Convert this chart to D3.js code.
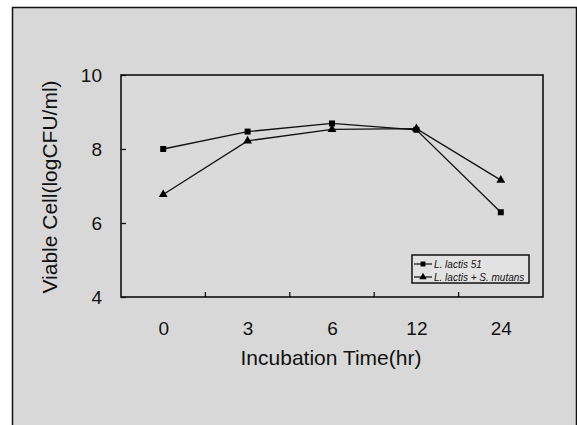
<!DOCTYPE html>
<html>
  <head>
    <meta charset="utf-8">
    <script src="https://cdnjs.cloudflare.com/ajax/libs/d3/7.8.5/d3.min.js"></script>
    <style>
      body { margin: 0; background: #fff; }
      svg text { font-family: "Liberation Sans", Arial, sans-serif; fill: #111; }
    </style>
  </head>
  <body>
    <svg id="chart"></svg>
    <script>

    var width = 577
    var height = 425

    // data
    var times = ["0", "3", "6", "12", "24"]
    var lactis = [8.0, 8.47, 8.69, 8.52, 6.29]
    var mixed = [6.77, 8.22, 8.53, 8.55, 7.16]
    var yTicks = [4, 6, 8, 10]
    var seriesNames = ["L. lactis 51", "L. lactis + S. mutans"]

    var frame = {left: 121, right: 543, top: 75, bottom: 297}

    var svg = d3.select("#chart")
      .attr("width", width)
      .attr("height", height)

    // scanned page background + outer border
    svg.append("rect")
      .attr("x", 12).attr("y", 7)
      .attr("width", width - 12).attr("height", height - 7)
      .attr("fill", "#d8d8d8")
    svg.append("path")
      .attr("d", "M12.5," + height + "V7.5H576.5V" + height)
      .attr("fill", "none")
      .attr("stroke", "#111")
      .attr("stroke-width", 1.5)

    var x = d3.scalePoint()
      .domain(times)
      .range([frame.left, frame.right])
      .padding(0.5)

    var y = d3.scaleLinear()
      .domain([4, 10])
      .range([frame.bottom, frame.top])

    // plot frame
    svg.append("rect")
      .attr("x", frame.left).attr("y", frame.top)
      .attr("width", frame.right - frame.left)
      .attr("height", frame.bottom - frame.top)
      .attr("fill", "#dadada")
      .attr("stroke", "#111")
      .attr("stroke-width", 1.6)

    // y axis, ticks pointing inside
    var yAxis = svg.append("g")
      .attr("transform", "translate(" + frame.left + ",0)")
      .call(d3.axisLeft(y).tickValues(yTicks).tickFormat(d3.format("d"))
        .tickSizeInner(-5).tickSizeOuter(0).tickPadding(19))
    yAxis.select(".domain").remove()
    yAxis.selectAll("line").attr("stroke", "#111").attr("stroke-width", 1.3)
    yAxis.selectAll("text").style("font-size", "19px").attr("fill", "#111")

    // x axis: labels at the categories, tick marks between them
    var xAxis = svg.append("g")
      .attr("transform", "translate(0," + frame.bottom + ")")
      .call(d3.axisBottom(x).tickSize(0).tickPadding(25))
    xAxis.select(".domain").remove()
    xAxis.selectAll("text").style("font-size", "19px").attr("fill", "#111")

    var step = x.step()
    var between = times.slice(1).map(function(t) { return x(t) - step / 2 })
    svg.append("g").selectAll("line")
      .data(between)
      .enter().append("line")
      .attr("x1", function(d) { return d }).attr("x2", function(d) { return d })
      .attr("y1", frame.bottom).attr("y2", frame.bottom - 5)
      .attr("stroke", "#111")
      .attr("stroke-width", 1.3)

    // axis titles
    svg.append("text")
      .attr("x", (frame.left + frame.right) / 2 - 1)
      .attr("y", 365)
      .attr("text-anchor", "middle")
      .style("font-size", "21px")
      .text("Incubation Time(hr)")

    svg.append("text")
      .attr("transform", "translate(57,187) rotate(-90)")
      .attr("text-anchor", "middle")
      .style("font-size", "21px")
      .text("Viable Cell(logCFU/ml)")

    // series
    var line = d3.line()
      .x(function(d, i) { return x(times[i]) })
      .y(function(d) { return y(d) })

    var series = [
      {name: seriesNames[0], values: lactis, symbol: d3.symbolSquare, size: 36},
      {name: seriesNames[1], values: mixed, symbol: d3.symbolTriangle, size: 34}
    ]

    series.forEach(function(s) {
      svg.append("path")
        .datum(s.values)
        .attr("d", line)
        .attr("fill", "none")
        .attr("stroke", "#111")
        .attr("stroke-width", 1.3)

      svg.append("g").selectAll("path")
        .data(s.values)
        .enter().append("path")
        .attr("d", d3.symbol().type(s.symbol).size(s.size))
        .attr("transform", function(d, i) { return "translate(" + x(times[i]) + "," + y(d) + ")" })
        .attr("fill", "#000")
    })

    // legend
    var legend = svg.append("g").attr("transform", "translate(412,255)")
    legend.append("rect")
      .attr("width", 117).attr("height", 28)
      .attr("fill", "#e2e2e2")
      .attr("stroke", "#111")
      .attr("stroke-width", 1.5)

    var item = legend.selectAll(".item")
      .data(series)
      .enter().append("g")
      .attr("class", "item")
      .attr("transform", function(d, i) { return "translate(0," + (9 + i * 13) + ")" })

    item.append("line")
      .attr("x1", 2).attr("x2", 20)
      .attr("stroke", "#111")
      .attr("stroke-width", 1.2)
    item.append("path")
      .attr("d", function(d) { return d3.symbol().type(d.symbol).size(24)() })
      .attr("transform", "translate(11,0)")
      .attr("fill", "#000")
    item.append("text")
      .attr("x", 22)
      .attr("dy", "0.35em")
      .style("font-size", "10px")
      .style("font-style", "italic")
      .text(function(d) { return d.name })

    </script>
  </body>
</html>
